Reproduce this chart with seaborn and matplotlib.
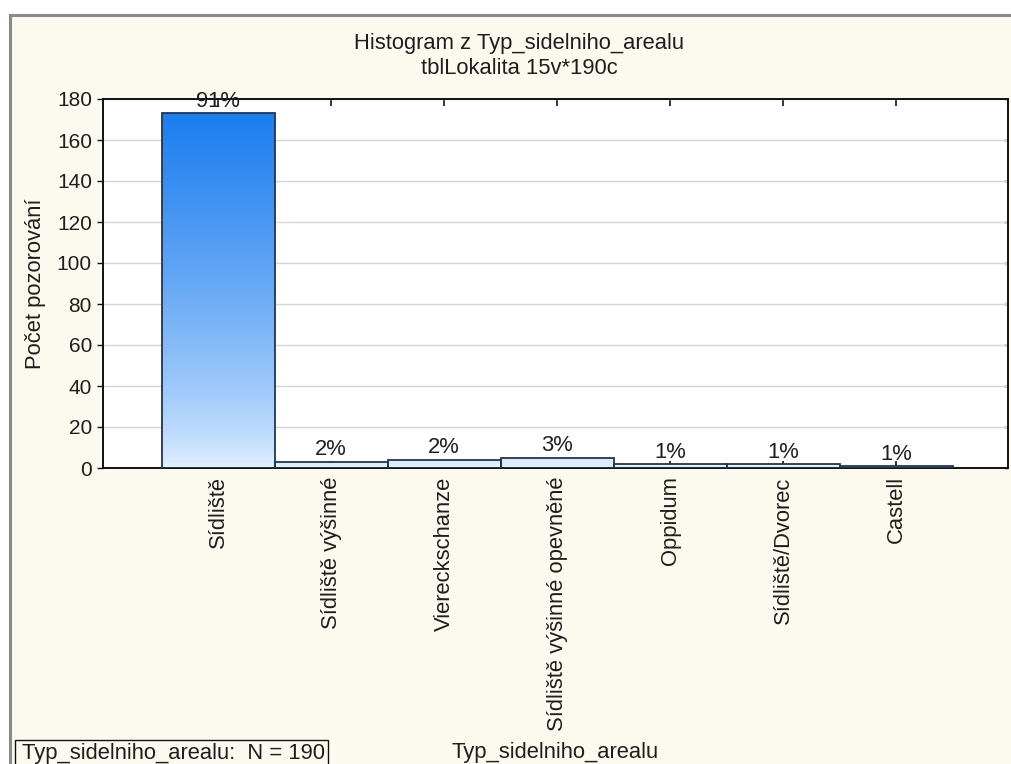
import numpy as np
import pandas as pd
import matplotlib
matplotlib.use("Agg")
import matplotlib.pyplot as plt
import seaborn as sns
from matplotlib.patches import Rectangle
from matplotlib.colors import LinearSegmentedColormap

# ---- data -------------------------------------------------------------
categories = ["Sídliště", "Sídliště výšinné", "Viereckschanze",
              "Sídliště výšinné opevněné", "Oppidum", "Sídliště/Dvorec", "Castell"]
counts = [173, 3, 4, 5, 2, 2, 1]
y_ticks = [0, 20, 40, 60, 80, 100, 120, 140, 160, 180]

title_line1 = "Histogram z Typ_sidelniho_arealu"
title_line2 = "tblLokalita 15v*190c"
x_label = "Typ_sidelniho_arealu"
y_label = "Počet pozorování"

N = sum(counts)

# ---- style ------------------------------------------------------------
sns.set_theme(style="white")
plt.rcParams["font.family"] = ["Liberation Sans", "DejaVu Sans"]
FS = 15
FS_L = 15.8
TXT = "#1e1e1e"

W, H = 1012, 764
fig = plt.figure(figsize=(W / 100, H / 100), dpi=100, facecolor="white")


def fx(px):
    return px / W


def fy(py):
    return 1 - py / H


# cream panel with a grey frame line along the top and left
fig.patches.append(Rectangle((fx(10), fy(820)), 1030 / W, (820 - 15.5) / H,
                             transform=fig.transFigure, facecolor="#fcf9ef",
                             edgecolor="#8a8a8a", linewidth=2.2, zorder=-10))

ax = fig.add_axes([fx(103), fy(468), (1008 - 103) / W, (468 - 99) / H])
ax.set_facecolor("white")

df = pd.DataFrame({"Typ": categories, "Pocet": counts})
sns.barplot(data=df, x="Typ", y="Pocet", ax=ax, width=1.0, color="#8fc3f7",
            saturation=1, edgecolor="#1d3658", linewidth=1.3, zorder=3)

# vertical blue gradient inside each bar (light at the base, deep blue high up)
cmap = LinearSegmentedColormap.from_list("bluegrad", ["#e6f2ff", "#1c7eef"])
top = max(counts)
grad = np.linspace(0, 1, 256) ** 0.7
grad = grad.reshape(-1, 1)
for patch in list(ax.patches):
    x0 = patch.get_x()
    w = patch.get_width()
    patch.set_facecolor("none")
    im = ax.imshow(grad, cmap=cmap, origin="lower", aspect="auto",
                   extent=[x0, x0 + w, 0, top], zorder=2.5, interpolation="bilinear")
    im.set_clip_path(patch)

ax.set_xlim(-1.02, 6.99)
ax.set_ylim(0, 180)
ax.set_yticks(y_ticks)

# percentage labels above bars
for i, c in enumerate(counts):
    ax.annotate(f"{round(100 * c / N)}%", xy=(i, c), xytext=(0, 1.0),
                textcoords="offset points", ha="center", va="bottom",
                fontsize=FS_L, color=TXT, zorder=6, annotation_clip=False)

ax.yaxis.grid(True, color="#d6d6d6", linewidth=1.0)
ax.set_axisbelow(True)

for s in ax.spines.values():
    s.set_visible(True)
    s.set_color("#111111")
    s.set_linewidth(1.4)

ax.tick_params(axis="x", which="both", direction="in", top=True, bottom=True,
               length=5, width=1.2, color="#111111", labelsize=FS_L,
               labelcolor=TXT, pad=6)
ax.tick_params(axis="y", which="both", direction="out", left=True, right=False,
               length=4, width=1.0, color="#111111", labelsize=FS,
               labelcolor=TXT, pad=4)
plt.setp(ax.get_xticklabels(), rotation=90, ha="center", va="top")

# short inward ticks on the right edge at the grid positions
ax_r = ax.secondary_yaxis("right")
ax_r.set_yticks(y_ticks)
ax_r.tick_params(direction="in", length=3, width=1.0, color="#111111",
                 labelright=False)
ax_r.spines["right"].set_visible(False)

ax.set_xlabel(x_label, fontsize=FS_L, color=TXT)
ax.xaxis.set_label_coords(0.5, (468 - 742) / 369)
ax.set_ylabel(y_label, fontsize=FS_L, color=TXT)
ax.yaxis.set_label_coords((46 - 103) / 905, 0.5)

fig.text(fx(519), fy(44), title_line1, ha="center", va="center",
         fontsize=FS_L, color=TXT)
fig.text(fx(519), fy(68), title_line2, ha="center", va="center",
         fontsize=FS_L, color=TXT)

# summary box in the lower-left corner
fig.patches.append(Rectangle((fx(15), fy(790)), (328 - 15) / W, (790 - 740) / H,
                             transform=fig.transFigure, facecolor="none",
                             edgecolor="#111111", linewidth=1.0, zorder=5))
fig.text(fx(22), fy(753), f"{x_label}:  N = {N}", ha="left", va="center",
         fontsize=FS_L, color=TXT)

fig.savefig("out.png", dpi=100, facecolor=fig.get_facecolor())
